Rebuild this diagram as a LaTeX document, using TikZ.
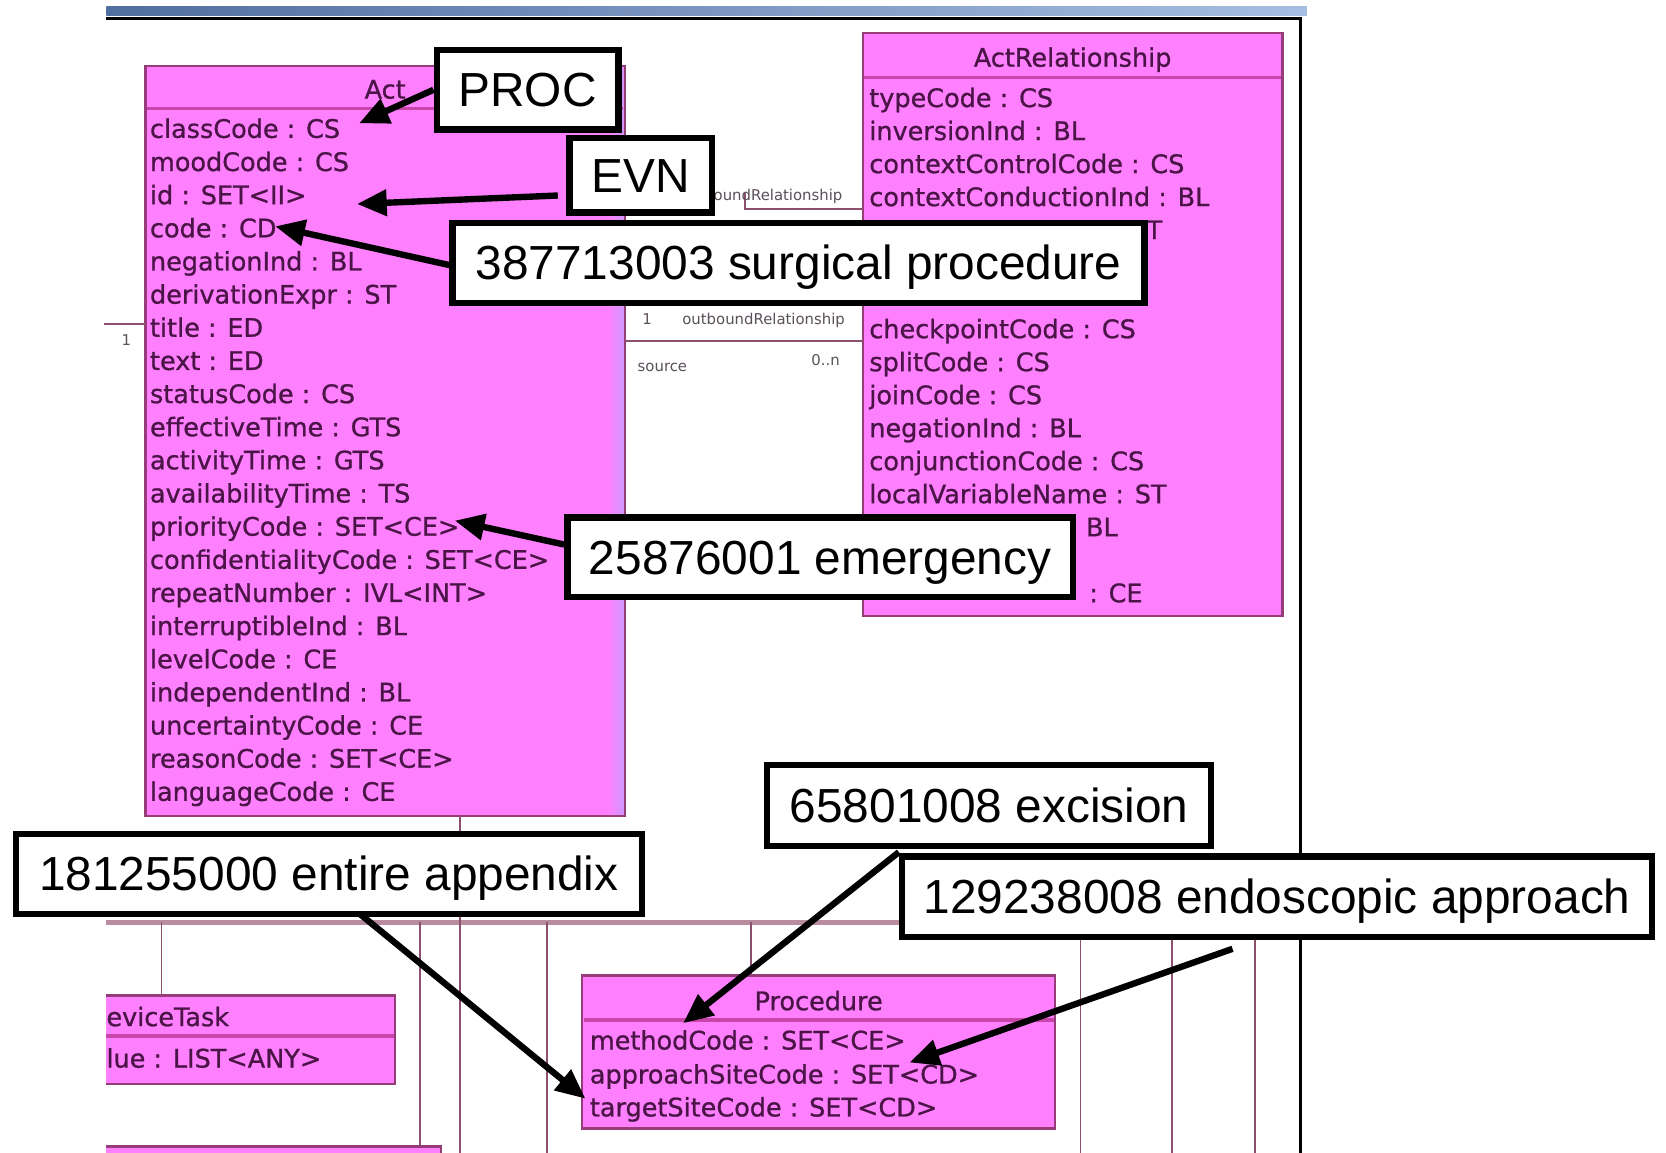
\documentclass[tikz,border=0pt]{standalone}
\usepackage{fontspec}
\setmainfont{Liberation Sans}
\newfontfamily\umlfont[FakeBold=0.9]{DejaVu Sans}
\newfontfamily\rolefont{DejaVu Sans}
\usetikzlibrary{arrows.meta,calc}

\definecolor{umlfill}{RGB}{255,128,255}
\definecolor{umlborder}{RGB}{150,60,120}
\definecolor{umlsep}{RGB}{200,70,170}
\definecolor{umltext}{RGB}{75,20,70}
\definecolor{wire}{RGB}{140,80,110}
\definecolor{bandcol}{RGB}{185,140,160}
\definecolor{barleft}{RGB}{80,110,160}
\definecolor{barright}{RGB}{165,190,225}
\definecolor{lavender}{RGB}{210,150,255}
\definecolor{rolegray}{RGB}{90,80,90}

\begin{document}
\begin{tikzpicture}[x=1pt,y=-1pt,
  umlbox/.style={fill=umlfill, draw=umlborder, line width=2.2pt, inner sep=0pt, outer sep=0pt},
  umledge/.style={draw=umlborder, line width=2.2pt},
  umlrule/.style={draw=umlsep, line width=3pt},
  attr/.style={anchor=west, inner sep=0pt, text=umltext, text height=17.5pt, text depth=0pt,
    font={\umlfont\fontsize{24}{28}\selectfont}},
  umltitle/.style={inner sep=0pt, text=umltext, text height=17.5pt, text depth=0pt,
    font={\umlfont\fontsize{24}{28}\selectfont}},
  rolelabel/.style={inner sep=0pt, text=rolegray, text height=10pt, text depth=0pt,
    font={\rolefont\fontsize{14}{16}\selectfont}},
  wireline/.style={draw=wire, line width=1.6pt},
  bandline/.style={draw=bandcol, line width=5pt},
  callout/.style={draw=black, fill=white, line width=6pt, inner sep=0pt,
    text height=32pt, text depth=0pt, font={\fontsize{45}{54}\selectfont}},
  pointer/.style={draw=black, line width=6pt, -{Triangle[length=28pt,width=24pt]}},
]
\useasboundingbox (0,0) rectangle (1568,1085);
\clip (0,0) rectangle (1568,1085);
\fill[white] (0,0) rectangle (1568,1085);

% window title strip and frame
\shade[left color=barleft, right color=barright] (100,6) rectangle (1230,15);
\draw[line width=2.5pt] (100,17.5) -- (1224,17.5) -- (1224,1090);

% generalization bus and its branches
\coordinate (busL) at (100,868);
\coordinate (busR) at (1183,868);
\draw[bandline] (busL) -- (busR);
\foreach \x in {395,515,1017,1103,1181}
  \draw[wireline] (\x,868) -- (\x,1090);

% ---------------- Act ----------------
\node[umlbox, minimum width=451pt, minimum height=706pt] (act) at (362.5,415) {};
\shade[left color=umlfill, right color=lavender] (572,63.2) rectangle (586.8,766.8);
\draw[umlrule] ($(act.north west)+(1.2,40)$) -- ($(act.north east)+(-1.2,40)$);
\node[umltitle] (acttitle) at ($(act.north)+(0,22)$) {Act};
\foreach \txt [count=\i from 0] in {classCode : CS, moodCode : CS, id : SET<II>, code : CD,
  negationInd : BL, derivationExpr : ST, title : ED, text : ED, statusCode : CS,
  effectiveTime : GTS, activityTime : GTS, availabilityTime : TS, priorityCode : SET<CE>,
  confidentialityCode : SET<CE>, repeatNumber : IVL<INT>, interruptibleInd : BL,
  levelCode : CE, independentInd : BL, uncertaintyCode : CE, reasonCode : SET<CE>,
  languageCode : CE}
  \node[attr] (act\i) at (141,{121+31.2*\i}) {\txt};

% ---------------- ActRelationship ----------------
\node[umlbox, minimum width=395pt, minimum height=549pt] (actrel) at (1009.5,305.5) {};
\draw[umlrule] ($(actrel.north west)+(1.2,42)$) -- ($(actrel.north east)+(-1.2,42)$);
\node[umltitle] (reltitle) at ($(actrel.north)+(0,23)$) {ActRelationship};
\foreach \i/\txt in {0/typeCode : CS, 1/inversionInd : BL, 2/contextControlCode : CS,
  3/contextConductionInd : BL, 7/checkpointCode : CS,
  8/splitCode : CS, 9/joinCode : CS, 10/negationInd : BL, 11/conjunctionCode : CS,
  12/localVariableName : ST}
  \node[attr] (rel\i) at (818,{92+31.07*\i}) {\txt};
% rows whose start is hidden behind the callouts: only their tails show
\node[attr] (rel4) at (1079,{92+31.07*4}) {T};
\node[attr] (rel13) at (1022,{92+31.07*13}) {BL};
\node[attr] (rel15) at (1025,{92+31.07*15}) {: CE};

% associations between Act and ActRelationship
\coordinate (leftstub) at (98,305);
\draw[wireline] (act.west |- leftstub) -- (leftstub);
\node[rolelabel] (leftone) at (119,320) {1};

\coordinate (inbend) at (701,197);
\coordinate (intop) at (701,182);
\draw[wireline] (intop) -- (inbend) -- (actrel.west |- inbend);
\node[rolelabel, anchor=east] (inlabel) at (793,184) {inboundRelationship};

\coordinate (outrow) at (0,321);
\draw[wireline] (act.east |- outrow) -- (actrel.west |- outrow);
\node[rolelabel] (outone) at (609,300) {1};
\node[rolelabel, anchor=west] (outlabel) at (642,300) {outboundRelationship};
\node[rolelabel, anchor=west] (srclabel) at (600,345) {source};
\node[rolelabel] (manylabel) at (777,339) {0..n};

\coordinate (actfoot) at (433,868);
\draw[wireline] (act.south -| actfoot) -- (actfoot) -- (433,1090);

% ---------------- DeviceTask (cut at the window edge) ----------------
\fill[umlfill] (100,937) rectangle (372,1020);
\draw[umledge] (100,937) -- (372,937) -- (372,1020) -- (100,1020);
\draw[umlrule] (100,975) -- (370.9,975);
\node[attr] (devname) at (100,957) {eviceTask};
\node[attr] (devval) at (100,996) {lue : LIST<ANY>};
\coordinate (devtop) at (152,937);
\draw[wireline] (devtop |- busL) -- (devtop);

% box peeking in at the bottom edge
\fill[umlfill] (100,1079) rectangle (415,1095);
\draw[umledge] (100,1079) -- (415,1079) -- (415,1095);

% ---------------- Procedure ----------------
\node[umlbox, minimum width=445pt, minimum height=144pt] (procbox) at (770.5,990) {};
\draw[umlrule] ($(procbox.north west)+(1.2,42)$) -- ($(procbox.north east)+(-1.2,42)$);
\node[umltitle] (proctitle) at ($(procbox.north)+(0,24)$) {Procedure};
\node[attr] (pmethod) at (555,979) {methodCode : SET<CE>};
\node[attr] (papproach) at (555,1011) {approachSiteCode : SET<CD>};
\node[attr] (ptarget) at (555,1042) {targetSiteCode : SET<CD>};
\coordinate (procstem) at (707,868);
\draw[wireline] (procstem) -- (procstem |- procbox.north);

% ---------------- callouts ----------------
\node[callout, minimum width=171pt, minimum height=75pt] (cproc) at (496.5,84.5) {PROC};
\node[callout, minimum width=134pt, minimum height=70pt] (cevn) at (603,165) {EVN};
\node[callout, minimum width=651pt, minimum height=75pt] (csurg) at (751.5,247.5) {387713003 surgical procedure};
\node[callout, minimum width=476pt, minimum height=75pt] (cemerg) at (772,524.5) {25876001 emergency};
\node[callout, minimum width=418pt, minimum height=76pt] (cexc) at (931,758) {65801008 excision};
\node[callout, minimum width=589pt, minimum height=75pt] (capp) at (309.5,822.5) {181255000 entire appendix};
\node[callout, minimum width=706pt, minimum height=76pt] (cendo) at (1202,844) {129238008 endoscopic approach};

% arrow targets next to the attributes
\coordinate (tipclass) at (338,116);
\coordinate (tipid) at (336,192);
\coordinate (tipcode) at (259,213);
\coordinate (tipprio) at (428,490);
\coordinate (tipmethod) at (643,963);
\coordinate (tiptarget) at (551,1034);
\coordinate (tipapproach) at (856,1000);

\draw[pointer] (cproc.west) -- (tipclass);
\draw[pointer] ($(cevn.west)+(-8,19)$) -- (tipid);
\draw[pointer] ($(csurg.west)+(0,2)$) -- (tipcode);
\draw[pointer] ($(cemerg.west)+(0,-12)$) -- (tipprio);
\draw[pointer] ($(cexc.south)+(-85,3)$) -- (tipmethod);
\draw[pointer] ($(capp.south)+(29,-3)$) -- (tiptarget);
\draw[pointer] ($(cendo.south)+(-42,8)$) -- (tipapproach);
\end{tikzpicture}
\end{document}
